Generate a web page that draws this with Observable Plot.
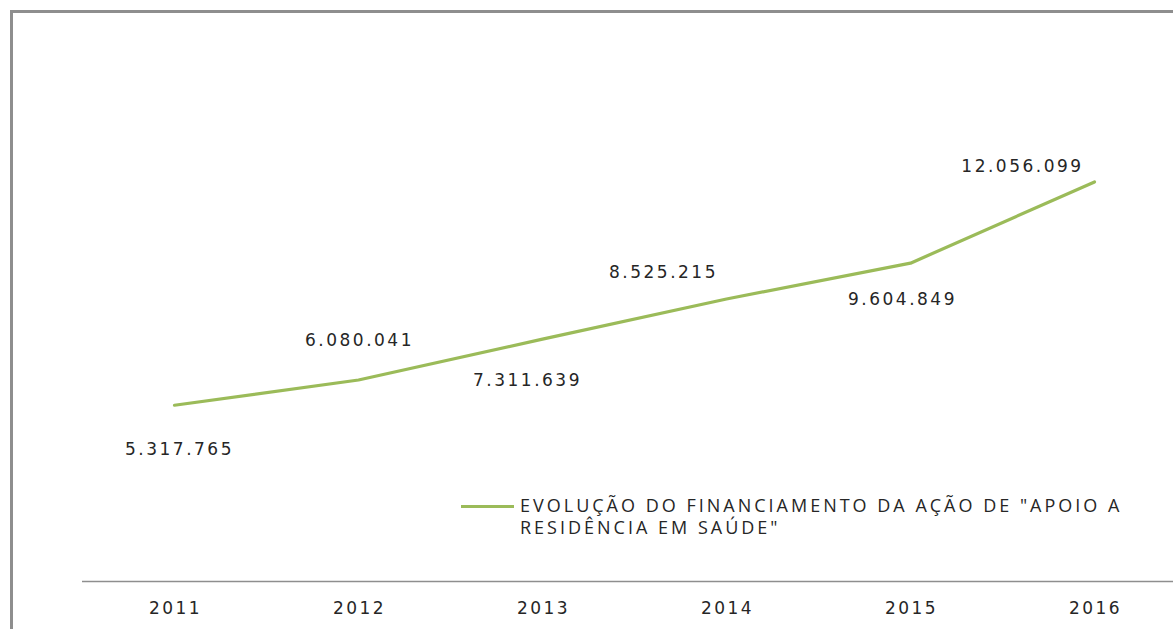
<!DOCTYPE html>
<html>
<head>
<meta charset="utf-8">
<script src="https://cdn.jsdelivr.net/npm/d3@7"></script>
<script src="https://cdn.jsdelivr.net/npm/@observablehq/plot@0.6"></script>
<style>
  html, body { margin: 0; padding: 0; background: #fff; }
  #wrap { position: relative; width: 1173px; height: 629px; overflow: hidden; font-family: "DejaVu Sans", sans-serif; }
  #frame { position: absolute; left: 10px; top: 10px; width: 1200px; height: 700px; border-left: 3px solid #8e8e8e; border-top: 3px solid #8e8e8e; box-sizing: border-box; }
  #chart { position: absolute; left: 0; top: 0; }
  .resk text { letter-spacing: 2.5px; }
  #legend { position: absolute; left: 461px; top: 494px; display: flex; align-items: flex-start; }
  #legend .swatch { width: 53px; height: 3px; background: #9BBB59; margin-top: 11px; margin-right: 6px; flex: none; }
  #legend .label { font-family: "Open Sans", sans-serif; font-size: 18px; line-height: 22px; color: #262626; letter-spacing: 3px; width: 650px; }
</style>
</head>
<body>
<div id="wrap">
  <div id="frame"></div>
  <div id="chart"></div>
  <div id="legend"><div class="swatch"></div><div class="label" id="legendText"></div></div>
</div>
<script>
const years = [2011, 2012, 2013, 2014, 2015, 2016];
const values = [5317765, 6080041, 7311639, 8525215, 9604849, 12056099];
const valueLabels = ["5.317.765", "6.080.041", "7.311.639", "8.525.215", "9.604.849", "12.056.099"];
const seriesName = "EVOLUÇÃO DO FINANCIAMENTO DA AÇÃO DE \"APOIO A RESIDÊNCIA EM SAÚDE\"";

const data = years.map((y, i) => ({year: y, value: values[i], label: valueLabels[i]}));

// label placement (styling only)
const labelOffsets = [[4, 44], [0, -39], [-16, 41], [-64, -26], [-9, 36], [-73, -15]];

const textStyle = {fontFamily: "DejaVu Sans, sans-serif", fontSize: 17, fill: "#262626"};

const labelMarks = data.map((d, i) =>
  Plot.text([d], {x: "year", y: "value", text: "label", dx: labelOffsets[i][0] + 1, dy: labelOffsets[i][1], ...textStyle})
);

const chart = Plot.plot({
  width: 1173,
  height: 629,
  marginTop: 117,
  marginBottom: 48,
  marginLeft: 82,
  marginRight: 0,
  className: "resk",
  style: {background: "transparent", overflow: "hidden"},
  x: {domain: [2010.5, 2016.5], range: [82, 1186], axis: null},
  y: {domain: [0, 14000000], range: [581, 117], axis: null},
  marks: [
    Plot.ruleY([0], {x1: 2010.5, x2: 2016.5, stroke: "#8e8e8e", strokeWidth: 1.3}),
    Plot.axisX(years, {anchor: "bottom", tickSize: 0, tickPadding: 20, tickFormat: d => String(d), label: null,
      dx: 1, fontSize: 17, fontFamily: "DejaVu Sans, sans-serif", fill: "#262626"}),
    Plot.line(data, {x: "year", y: "value", stroke: "#9BBB59", strokeWidth: 3.2}),
    ...labelMarks
  ]
});
document.getElementById("chart").appendChild(chart);
document.getElementById("legendText").textContent = seriesName;
</script>
</body>
</html>
